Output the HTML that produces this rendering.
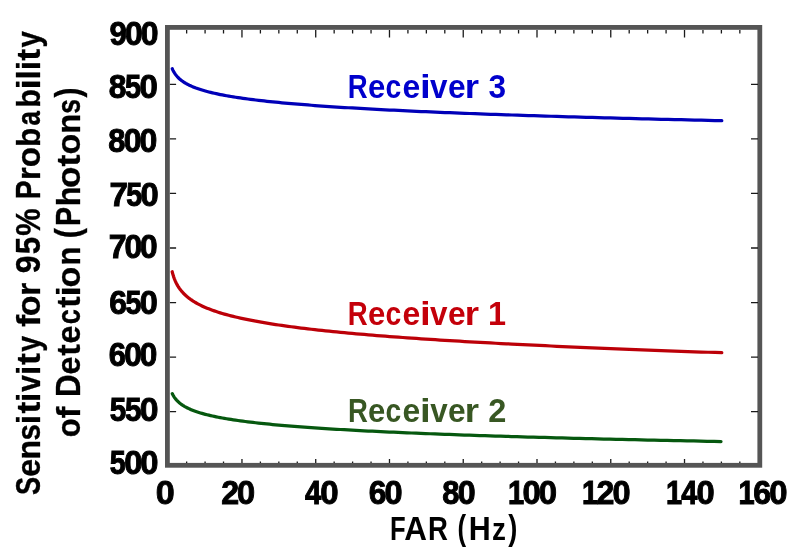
<!DOCTYPE html>
<html><head><meta charset="utf-8"><style>
html,body{margin:0;padding:0;background:#fff;}
body{width:799px;height:554px;overflow:hidden;}
svg{display:block;will-change:transform;}
text{font-family:"Liberation Sans",sans-serif;font-weight:bold;font-kerning:none;}
</style></head><body>
<svg width="799" height="554" viewBox="0 0 799 554">
<rect width="799" height="554" fill="#fff"/>
<rect x="167.4" y="27.4" width="592.4" height="437.9" fill="none" stroke="#555555" stroke-width="4.8"/>
<path d="M186.64 29.9v3.6 M186.64 463.1v-1.5 M205.08 29.9v3.6 M205.08 463.1v-1.5 M223.52 29.9v3.6 M223.52 463.1v-1.5 M241.96 29.9v7.5 M241.96 463.1v-4.2 M260.40 29.9v3.6 M260.40 463.1v-1.5 M278.84 29.9v3.6 M278.84 463.1v-1.5 M297.28 29.9v3.6 M297.28 463.1v-1.5 M315.72 29.9v7.5 M315.72 463.1v-4.2 M334.16 29.9v3.6 M334.16 463.1v-1.5 M352.60 29.9v3.6 M352.60 463.1v-1.5 M371.04 29.9v3.6 M371.04 463.1v-1.5 M389.48 29.9v7.5 M389.48 463.1v-4.2 M407.92 29.9v3.6 M407.92 463.1v-1.5 M426.36 29.9v3.6 M426.36 463.1v-1.5 M444.80 29.9v3.6 M444.80 463.1v-1.5 M463.24 29.9v7.5 M463.24 463.1v-4.2 M481.68 29.9v3.6 M481.68 463.1v-1.5 M500.12 29.9v3.6 M500.12 463.1v-1.5 M518.56 29.9v3.6 M518.56 463.1v-1.5 M537.00 29.9v7.5 M537.00 463.1v-4.2 M555.44 29.9v3.6 M555.44 463.1v-1.5 M573.88 29.9v3.6 M573.88 463.1v-1.5 M592.32 29.9v3.6 M592.32 463.1v-1.5 M610.76 29.9v7.5 M610.76 463.1v-4.2 M629.20 29.9v3.6 M629.20 463.1v-1.5 M647.64 29.9v3.6 M647.64 463.1v-1.5 M666.08 29.9v3.6 M666.08 463.1v-1.5 M684.52 29.9v7.5 M684.52 463.1v-4.2 M702.96 29.9v3.6 M702.96 463.1v-1.5 M721.40 29.9v3.6 M721.40 463.1v-1.5 M739.84 29.9v3.6 M739.84 463.1v-1.5 M169.9 84.35h6.2 M758.0 84.35h-7.0 M169.9 138.90h6.2 M758.0 138.90h-7.0 M169.9 193.45h6.2 M758.0 193.45h-7.0 M169.9 248.00h6.2 M758.0 248.00h-7.0 M169.9 302.55h6.2 M758.0 302.55h-7.0 M169.9 357.10h6.2 M758.0 357.10h-7.0 M169.9 411.65h6.2 M758.0 411.65h-7.0" stroke="#1a1a1a" stroke-width="1.3" fill="none"/>
<path d="M172.30 68.77 L172.32 68.82 L172.39 68.97 L172.50 69.22 L172.65 69.56 L172.84 69.98 L173.08 70.47 L173.37 71.03 L173.69 71.63 L174.06 72.27 L174.47 72.95 L174.93 73.64 L175.43 74.36 L175.97 75.08 L176.56 75.81 L177.19 76.54 L177.86 77.26 L178.58 77.98 L179.34 78.70 L180.15 79.40 L180.99 80.10 L181.89 80.78 L182.82 81.45 L183.80 82.11 L184.82 82.76 L185.88 83.39 L186.99 84.01 L188.15 84.62 L189.34 85.22 L190.58 85.80 L191.86 86.37 L193.19 86.93 L194.56 87.48 L195.97 88.02 L197.43 88.54 L198.93 89.06 L200.47 89.57 L202.06 90.06 L203.69 90.55 L205.36 91.03 L207.08 91.49 L208.84 91.95 L210.64 92.40 L212.49 92.85 L214.38 93.28 L216.31 93.71 L218.29 94.13 L220.31 94.54 L222.38 94.95 L224.49 95.35 L226.64 95.74 L228.83 96.13 L231.07 96.51 L233.36 96.88 L235.68 97.25 L238.05 97.61 L240.46 97.97 L242.92 98.32 L245.42 98.67 L247.96 99.01 L250.55 99.34 L253.18 99.68 L255.85 100.00 L258.57 100.33 L261.33 100.65 L264.13 100.96 L266.98 101.27 L269.87 101.58 L272.81 101.88 L275.78 102.18 L278.80 102.48 L281.87 102.77 L284.98 103.06 L288.13 103.34 L291.32 103.63 L294.56 103.90 L297.85 104.18 L301.17 104.45 L304.54 104.72 L307.95 104.99 L311.41 105.25 L314.91 105.51 L318.45 105.77 L322.04 106.03 L325.67 106.28 L329.34 106.53 L333.06 106.78 L336.82 107.02 L340.62 107.27 L344.47 107.51 L348.36 107.75 L352.29 107.98 L356.27 108.22 L360.29 108.45 L364.36 108.68 L368.46 108.91 L372.62 109.14 L376.81 109.36 L381.05 109.58 L385.33 109.80 L389.66 110.02 L394.03 110.24 L398.44 110.45 L402.89 110.67 L407.39 110.88 L411.94 111.09 L416.52 111.30 L421.15 111.51 L425.83 111.71 L430.54 111.92 L435.30 112.12 L440.11 112.32 L444.95 112.52 L449.84 112.72 L454.78 112.91 L459.75 113.11 L464.78 113.30 L469.84 113.50 L474.95 113.69 L480.10 113.88 L485.29 114.07 L490.53 114.26 L495.81 114.44 L501.14 114.63 L506.51 114.81 L511.92 115.00 L517.38 115.18 L522.87 115.36 L528.42 115.54 L534.00 115.72 L539.63 115.90 L545.31 116.07 L551.02 116.25 L556.78 116.42 L562.59 116.60 L568.43 116.77 L574.32 116.94 L580.26 117.11 L586.23 117.28 L592.26 117.45 L598.32 117.62 L604.43 117.79 L610.58 117.96 L616.77 118.12 L623.01 118.29 L629.29 118.45 L635.62 118.62 L641.99 118.78 L648.40 118.94 L654.85 119.10 L661.35 119.26 L667.90 119.42 L674.48 119.58 L681.11 119.74 L687.78 119.90 L694.50 120.06 L701.26 120.21 L708.06 120.37 L714.91 120.52 L721.80 120.68" stroke="#0000b8" stroke-width="3.25" fill="none" stroke-linecap="round" stroke-linejoin="round"/>
<path d="M172.20 271.76 L172.22 271.84 L172.29 272.11 L172.40 272.54 L172.55 273.12 L172.74 273.83 L172.98 274.66 L173.27 275.60 L173.59 276.61 L173.96 277.68 L174.37 278.79 L174.83 279.94 L175.33 281.11 L175.87 282.29 L176.46 283.47 L177.09 284.65 L177.77 285.82 L178.48 286.98 L179.24 288.12 L180.05 289.24 L180.90 290.34 L181.79 291.42 L182.72 292.48 L183.70 293.52 L184.72 294.54 L185.79 295.53 L186.90 296.51 L188.05 297.46 L189.24 298.39 L190.48 299.30 L191.77 300.19 L193.09 301.06 L194.46 301.92 L195.87 302.75 L197.33 303.57 L198.83 304.37 L200.37 305.15 L201.96 305.92 L203.59 306.67 L205.27 307.41 L206.98 308.13 L208.74 308.84 L210.55 309.54 L212.40 310.22 L214.29 310.89 L216.22 311.55 L218.20 312.19 L220.22 312.83 L222.29 313.45 L224.40 314.07 L226.55 314.67 L228.74 315.26 L230.98 315.85 L233.27 316.42 L235.59 316.99 L237.96 317.54 L240.38 318.09 L242.83 318.63 L245.33 319.16 L247.88 319.69 L250.46 320.20 L253.09 320.71 L255.77 321.21 L258.48 321.71 L261.25 322.20 L264.05 322.68 L266.90 323.15 L269.79 323.62 L272.72 324.09 L275.70 324.55 L278.72 325.00 L281.79 325.44 L284.90 325.89 L288.05 326.32 L291.25 326.75 L294.49 327.18 L297.77 327.60 L301.09 328.02 L304.46 328.43 L307.88 328.83 L311.33 329.24 L314.83 329.64 L318.38 330.03 L321.96 330.42 L325.59 330.81 L329.27 331.19 L332.99 331.57 L336.75 331.94 L340.55 332.32 L344.40 332.68 L348.29 333.05 L352.23 333.41 L356.20 333.77 L360.23 334.12 L364.29 334.47 L368.40 334.82 L372.55 335.17 L376.75 335.51 L380.99 335.85 L385.27 336.18 L389.60 336.52 L393.97 336.85 L398.38 337.18 L402.84 337.50 L407.34 337.82 L411.88 338.14 L416.47 338.46 L421.10 338.78 L425.77 339.09 L430.49 339.40 L435.25 339.71 L440.05 340.02 L444.90 340.32 L449.79 340.62 L454.73 340.92 L459.71 341.22 L464.73 341.52 L469.79 341.81 L474.90 342.10 L480.06 342.39 L485.25 342.68 L490.49 342.96 L495.77 343.25 L501.10 343.53 L506.47 343.81 L511.88 344.09 L517.34 344.37 L522.84 344.64 L528.38 344.92 L533.97 345.19 L539.60 345.46 L545.27 345.73 L550.99 346.00 L556.75 346.26 L562.56 346.53 L568.41 346.79 L574.30 347.05 L580.23 347.31 L586.21 347.57 L592.23 347.83 L598.30 348.08 L604.41 348.34 L610.56 348.59 L616.75 348.85 L622.99 349.10 L629.28 349.35 L635.60 349.59 L641.97 349.84 L648.39 350.09 L654.84 350.33 L661.34 350.58 L667.89 350.82 L674.47 351.06 L681.10 351.30 L687.78 351.54 L694.50 351.78 L701.26 352.02 L708.06 352.25 L714.91 352.49 L721.80 352.72" stroke="#bc0008" stroke-width="3.25" fill="none" stroke-linecap="round" stroke-linejoin="round"/>
<path d="M172.30 393.66 L172.32 393.70 L172.39 393.84 L172.50 394.06 L172.65 394.37 L172.84 394.75 L173.08 395.19 L173.36 395.69 L173.69 396.24 L174.06 396.83 L174.47 397.44 L174.93 398.08 L175.43 398.74 L175.97 399.40 L176.55 400.08 L177.18 400.75 L177.86 401.42 L178.57 402.09 L179.33 402.76 L180.14 403.41 L180.98 404.06 L181.87 404.70 L182.80 405.33 L183.78 405.94 L184.80 406.55 L185.87 407.14 L186.97 407.72 L188.12 408.30 L189.32 408.86 L190.55 409.40 L191.83 409.94 L193.16 410.47 L194.52 410.98 L195.94 411.49 L197.39 411.98 L198.89 412.47 L200.43 412.95 L202.01 413.41 L203.64 413.87 L205.31 414.32 L207.03 414.76 L208.78 415.19 L210.59 415.62 L212.43 416.03 L214.32 416.44 L216.25 416.84 L218.23 417.24 L220.24 417.63 L222.31 418.01 L224.41 418.38 L226.56 418.75 L228.75 419.12 L230.99 419.47 L233.27 419.82 L235.59 420.17 L237.95 420.51 L240.36 420.84 L242.82 421.17 L245.31 421.50 L247.85 421.82 L250.43 422.13 L253.06 422.45 L255.73 422.75 L258.44 423.05 L261.20 423.35 L264.00 423.65 L266.84 423.94 L269.73 424.22 L272.66 424.51 L275.63 424.79 L278.65 425.06 L281.71 425.33 L284.81 425.60 L287.96 425.87 L291.15 426.13 L294.39 426.39 L297.66 426.64 L300.98 426.90 L304.35 427.15 L307.75 427.39 L311.21 427.64 L314.70 427.88 L318.24 428.12 L321.82 428.36 L325.44 428.59 L329.11 428.82 L332.82 429.05 L336.58 429.28 L340.38 429.50 L344.22 429.72 L348.10 429.94 L352.03 430.16 L356.00 430.38 L360.02 430.59 L364.08 430.80 L368.18 431.01 L372.32 431.22 L376.51 431.42 L380.75 431.63 L385.02 431.83 L389.34 432.03 L393.70 432.23 L398.11 432.42 L402.56 432.62 L407.05 432.81 L411.59 433.00 L416.17 433.19 L420.79 433.38 L425.46 433.57 L430.17 433.75 L434.92 433.94 L439.72 434.12 L444.56 434.30 L449.44 434.48 L454.37 434.66 L459.34 434.83 L464.35 435.01 L469.41 435.18 L474.51 435.36 L479.65 435.53 L484.84 435.70 L490.07 435.87 L495.34 436.03 L500.66 436.20 L506.02 436.36 L511.43 436.53 L516.87 436.69 L522.36 436.85 L527.90 437.01 L533.48 437.17 L539.10 437.33 L544.76 437.49 L550.47 437.64 L556.22 437.80 L562.02 437.95 L567.86 438.11 L573.74 438.26 L579.66 438.41 L585.63 438.56 L591.64 438.71 L597.70 438.86 L603.80 439.01 L609.94 439.15 L616.13 439.30 L622.36 439.45 L628.63 439.59 L634.94 439.73 L641.30 439.88 L647.71 440.02 L654.15 440.16 L660.64 440.30 L667.17 440.44 L673.75 440.58 L680.37 440.71 L687.03 440.85 L693.74 440.99 L700.49 441.12 L707.28 441.26 L714.12 441.39 L721.00 441.53" stroke="#06580f" stroke-width="3.25" fill="none" stroke-linecap="round" stroke-linejoin="round"/>
<g fill="#000"><text transform="translate(109.46,45.22) scale(0.9331,1)" font-size="33.62" stroke="#000" stroke-width="0.96">9</text><text transform="translate(124.99,45.22) scale(0.9504,1)" font-size="33.62" stroke="#000" stroke-width="0.95">0</text><text transform="translate(140.69,45.22) scale(0.9504,1)" font-size="33.62" stroke="#000" stroke-width="0.95">0</text></g>
<g fill="#000"><text transform="translate(108.64,97.92) scale(0.9504,1)" font-size="33.47" stroke="#000" stroke-width="0.95">8</text><text transform="translate(124.96,97.92) scale(0.8644,1)" font-size="33.47" stroke="#000" stroke-width="1.04">5</text><text transform="translate(139.44,97.92) scale(0.9865,1)" font-size="33.47" stroke="#000" stroke-width="0.91">0</text></g>
<g fill="#000"><text transform="translate(108.27,152.43) scale(0.9293,1)" font-size="33.19" stroke="#000" stroke-width="0.97">8</text><text transform="translate(123.72,152.43) scale(0.9646,1)" font-size="33.19" stroke="#000" stroke-width="0.93">0</text><text transform="translate(139.46,152.43) scale(0.9646,1)" font-size="33.19" stroke="#000" stroke-width="0.93">0</text></g>
<g fill="#000"><text transform="translate(109.62,206.13) scale(1.0167,1)" font-size="32.63" stroke="#000" stroke-width="0.89">7</text><text transform="translate(126.23,206.13) scale(0.8789,1)" font-size="32.63" stroke="#000" stroke-width="1.02">5</text><text transform="translate(140.59,206.13) scale(1.0031,1)" font-size="32.63" stroke="#000" stroke-width="0.90">0</text></g>
<g fill="#000"><text transform="translate(108.77,257.73) scale(0.9836,1)" font-size="32.63" stroke="#000" stroke-width="0.92">7</text><text transform="translate(124.47,257.73) scale(0.9704,1)" font-size="32.63" stroke="#000" stroke-width="0.93">0</text><text transform="translate(140.04,257.73) scale(0.9704,1)" font-size="32.63" stroke="#000" stroke-width="0.93">0</text></g>
<g fill="#000"><text transform="translate(109.18,314.23) scale(0.9614,1)" font-size="33.19" stroke="#000" stroke-width="0.94">6</text><text transform="translate(125.41,314.23) scale(0.8562,1)" font-size="33.19" stroke="#000" stroke-width="1.05">5</text><text transform="translate(139.64,314.23) scale(0.9772,1)" font-size="33.19" stroke="#000" stroke-width="0.92">0</text></g>
<g fill="#000"><text transform="translate(108.71,366.23) scale(0.9364,1)" font-size="33.19" stroke="#000" stroke-width="0.96">6</text><text transform="translate(124.14,366.23) scale(0.9518,1)" font-size="33.19" stroke="#000" stroke-width="0.95">0</text><text transform="translate(139.68,366.23) scale(0.9518,1)" font-size="33.19" stroke="#000" stroke-width="0.95">0</text></g>
<g fill="#000"><text transform="translate(109.84,421.13) scale(0.8898,1)" font-size="33.19" stroke="#000" stroke-width="1.01">5</text><text transform="translate(125.03,421.13) scale(0.8898,1)" font-size="33.19" stroke="#000" stroke-width="1.01">5</text><text transform="translate(139.79,421.13) scale(1.0155,1)" font-size="33.19" stroke="#000" stroke-width="0.89">0</text></g>
<g fill="#000"><text transform="translate(109.87,473.53) scale(0.8639,1)" font-size="33.19" stroke="#000" stroke-width="1.04">5</text><text transform="translate(124.22,473.53) scale(0.9860,1)" font-size="33.19" stroke="#000" stroke-width="0.91">0</text><text transform="translate(140.29,473.53) scale(0.9860,1)" font-size="33.19" stroke="#000" stroke-width="0.91">0</text></g>
<g fill="#000"><text transform="translate(155.70,503.63) scale(1.0440,1)" font-size="32.63" stroke="#000" stroke-width="0.86">0</text></g>
<g fill="#000"><text transform="translate(221.23,503.63) scale(0.9867,1)" font-size="32.63" stroke="#000" stroke-width="0.91">2</text><text transform="translate(237.06,503.63) scale(0.9988,1)" font-size="32.63" stroke="#000" stroke-width="0.90">0</text></g>
<g fill="#000"><text transform="translate(304.91,503.63) scale(0.8984,1)" font-size="32.63" stroke="#000" stroke-width="1.00">4</text><text transform="translate(320.24,503.63) scale(1.0119,1)" font-size="32.63" stroke="#000" stroke-width="0.89">0</text></g>
<g fill="#000"><text transform="translate(368.68,503.63) scale(0.9795,1)" font-size="32.63" stroke="#000" stroke-width="0.92">6</text><text transform="translate(384.52,503.63) scale(0.9956,1)" font-size="32.63" stroke="#000" stroke-width="0.90">0</text></g>
<g fill="#000"><text transform="translate(442.17,503.63) scale(0.9497,1)" font-size="32.63" stroke="#000" stroke-width="0.95">8</text><text transform="translate(457.68,503.63) scale(0.9858,1)" font-size="32.63" stroke="#000" stroke-width="0.91">0</text></g>
<g fill="#000"><text transform="translate(508.02,503.63) scale(0.8912,1)" font-size="32.63" stroke="#000" stroke-width="1.01">1</text><text transform="translate(522.58,503.63) scale(1.0076,1)" font-size="32.63" stroke="#000" stroke-width="0.89">0</text><text transform="translate(538.71,503.63) scale(1.0076,1)" font-size="32.63" stroke="#000" stroke-width="0.89">0</text></g>
<g fill="#000"><text transform="translate(582.04,503.63) scale(0.8811,1)" font-size="32.63" stroke="#000" stroke-width="1.02">1</text><text transform="translate(596.62,503.63) scale(0.9841,1)" font-size="32.63" stroke="#000" stroke-width="0.91">2</text><text transform="translate(612.41,503.63) scale(0.9962,1)" font-size="32.63" stroke="#000" stroke-width="0.90">0</text></g>
<g fill="#000"><text transform="translate(665.93,503.63) scale(0.8851,1)" font-size="32.63" stroke="#000" stroke-width="1.02">1</text><text transform="translate(681.25,503.63) scale(0.8886,1)" font-size="32.63" stroke="#000" stroke-width="1.01">4</text><text transform="translate(696.43,503.63) scale(1.0008,1)" font-size="32.63" stroke="#000" stroke-width="0.90">0</text></g>
<g fill="#000"><text transform="translate(738.62,503.63) scale(0.8892,1)" font-size="32.63" stroke="#000" stroke-width="1.01">1</text><text transform="translate(753.27,503.63) scale(0.9891,1)" font-size="32.63" stroke="#000" stroke-width="0.91">6</text><text transform="translate(769.25,503.63) scale(1.0054,1)" font-size="32.63" stroke="#000" stroke-width="0.90">0</text></g>
<g fill="#0000cc"><text transform="translate(347.86,97.80) scale(0.8176,1)" font-size="33.72">R</text><text transform="translate(367.89,97.80) scale(0.9606,1)" font-size="32.34">e</text><text transform="translate(385.39,97.80) scale(0.8749,1)" font-size="32.34">c</text><text transform="translate(402.45,97.80) scale(0.9862,1)" font-size="32.34">e</text><text transform="translate(420.00,97.80) scale(1.1945,1)" font-size="32.34">i</text><text transform="translate(430.08,97.80) scale(0.9709,1)" font-size="32.34">v</text><text transform="translate(448.06,97.80) scale(0.9798,1)" font-size="32.34">e</text><text transform="translate(464.78,97.80) scale(1.1342,1)" font-size="32.34">r</text><text transform="translate(488.48,97.80) scale(0.9366,1)" font-size="33.72">3</text></g>
<g fill="#c4000a"><text transform="translate(347.86,324.80) scale(0.8176,1)" font-size="33.72">R</text><text transform="translate(367.89,324.80) scale(0.9606,1)" font-size="32.34">e</text><text transform="translate(385.39,324.80) scale(0.8749,1)" font-size="32.34">c</text><text transform="translate(402.45,324.80) scale(0.9862,1)" font-size="32.34">e</text><text transform="translate(420.00,324.80) scale(1.1945,1)" font-size="32.34">i</text><text transform="translate(430.08,324.80) scale(0.9709,1)" font-size="32.34">v</text><text transform="translate(448.06,324.80) scale(0.9798,1)" font-size="32.34">e</text><text transform="translate(464.78,324.80) scale(1.1342,1)" font-size="32.34">r</text><text transform="translate(487.96,324.80) scale(0.9623,1)" font-size="33.72">1</text></g>
<g fill="#385723"><text transform="translate(347.96,421.70) scale(0.8170,1)" font-size="33.72">R</text><text transform="translate(367.97,421.70) scale(0.9599,1)" font-size="32.34">e</text><text transform="translate(385.47,421.70) scale(0.8743,1)" font-size="32.34">c</text><text transform="translate(402.52,421.70) scale(0.9855,1)" font-size="32.34">e</text><text transform="translate(420.06,421.70) scale(1.1938,1)" font-size="32.34">i</text><text transform="translate(430.13,421.70) scale(0.9703,1)" font-size="32.34">v</text><text transform="translate(448.10,421.70) scale(0.9791,1)" font-size="32.34">e</text><text transform="translate(464.81,421.70) scale(1.1334,1)" font-size="32.34">r</text><text transform="translate(488.28,421.70) scale(0.9664,1)" font-size="33.72">2</text></g>
<g fill="#000"><text transform="translate(389.99,540.10) scale(0.7599,1)" font-size="33.72">F</text><text transform="translate(404.32,540.10) scale(0.9327,1)" font-size="33.72">A</text><text transform="translate(428.06,540.10) scale(0.8176,1)" font-size="33.72">R</text><text transform="translate(457.41,539.68) scale(0.7328,1)" font-size="35.30">(</text><text transform="translate(468.86,540.10) scale(0.9029,1)" font-size="33.72">H</text><text transform="translate(492.09,540.10) scale(0.8808,1)" font-size="31.61">z</text><text transform="translate(508.27,539.68) scale(0.7730,1)" font-size="35.30">)</text></g>
<g fill="#000">
<text transform="translate(39.65,494.25) rotate(-90) translate(-0.78,0) scale(0.7892,1)" font-size="34.47" stroke="#000" stroke-width="0.38">S</text>
<text transform="translate(39.65,475.45) rotate(-90) translate(-1.26,0) scale(0.9623,1)" font-size="33.57" stroke="#000" stroke-width="0.31">e</text>
<text transform="translate(39.65,457.35) rotate(-90) translate(-2.12,0) scale(0.9561,1)" font-size="33.57" stroke="#000" stroke-width="0.31">n</text>
<text transform="translate(39.65,439.35) rotate(-90) translate(-1.03,0) scale(0.8750,1)" font-size="33.57" stroke="#000" stroke-width="0.34">s</text>
<text transform="translate(39.65,421.85) rotate(-90) translate(-2.34,0) scale(0.9986,1)" font-size="33.57" stroke="#000" stroke-width="0.30">i</text>
<text transform="translate(39.65,413.15) rotate(-90) translate(-0.44,0) scale(1.0618,1)" font-size="33.57" stroke="#000" stroke-width="0.28">t</text>
<text transform="translate(39.65,399.65) rotate(-90) translate(-2.34,0) scale(0.9986,1)" font-size="33.57" stroke="#000" stroke-width="0.30">i</text>
<text transform="translate(39.65,391.55) rotate(-90) translate(-0.12,0) scale(0.8971,1)" font-size="33.57" stroke="#000" stroke-width="0.33">v</text>
<text transform="translate(39.65,372.65) rotate(-90) translate(-2.34,0) scale(0.9986,1)" font-size="33.57" stroke="#000" stroke-width="0.30">i</text>
<text transform="translate(39.65,364.55) rotate(-90) translate(-0.44,0) scale(1.0714,1)" font-size="33.57" stroke="#000" stroke-width="0.28">t</text>
<text transform="translate(39.65,351.55) rotate(-90) translate(-0.22,0) scale(0.8448,1)" font-size="33.57" stroke="#000" stroke-width="0.36">y</text>
<text transform="translate(39.65,326.35) rotate(-90) translate(-0.63,0) scale(1.0964,1)" font-size="33.57" stroke="#000" stroke-width="0.27">f</text>
<text transform="translate(39.65,314.95) rotate(-90) translate(-1.33,0) scale(1.0121,1)" font-size="33.57" stroke="#000" stroke-width="0.30">o</text>
<text transform="translate(39.65,293.85) rotate(-90) translate(-2.27,0) scale(1.0248,1)" font-size="33.57" stroke="#000" stroke-width="0.29">r</text>
<text transform="translate(39.65,272.25) rotate(-90) translate(-1.11,0) scale(0.9283,1)" font-size="34.47" stroke="#000" stroke-width="0.32">9</text>
<text transform="translate(39.65,253.25) rotate(-90) translate(-0.96,0) scale(0.9095,1)" font-size="34.47" stroke="#000" stroke-width="0.33">5</text>
<text transform="translate(39.65,234.95) rotate(-90) translate(-0.77,0) scale(0.8933,1)" font-size="34.47" stroke="#000" stroke-width="0.34">%</text>
<text transform="translate(39.65,197.25) rotate(-90) translate(-1.88,0) scale(0.8151,1)" font-size="34.47" stroke="#000" stroke-width="0.37">P</text>
<text transform="translate(39.65,177.95) rotate(-90) translate(-2.14,0) scale(0.9668,1)" font-size="33.57" stroke="#000" stroke-width="0.31">r</text>
<text transform="translate(39.65,166.05) rotate(-90) translate(-1.29,0) scale(0.9841,1)" font-size="33.57" stroke="#000" stroke-width="0.30">o</text>
<text transform="translate(39.65,144.85) rotate(-90) translate(-2.08,0) scale(0.9399,1)" font-size="33.57" stroke="#000" stroke-width="0.32">b</text>
<text transform="translate(39.65,124.85) rotate(-90) translate(-0.76,0) scale(0.7709,1)" font-size="33.57" stroke="#000" stroke-width="0.39">a</text>
<text transform="translate(39.65,105.85) rotate(-90) translate(-2.01,0) scale(0.9103,1)" font-size="33.57" stroke="#000" stroke-width="0.33">b</text>
<text transform="translate(39.65,86.85) rotate(-90) translate(-2.60,0) scale(1.1072,1)" font-size="33.57" stroke="#000" stroke-width="0.27">i</text>
<text transform="translate(39.65,77.15) rotate(-90) translate(-2.34,0) scale(0.9986,1)" font-size="33.57" stroke="#000" stroke-width="0.30">l</text>
<text transform="translate(39.65,67.95) rotate(-90) translate(-2.34,0) scale(0.9986,1)" font-size="33.57" stroke="#000" stroke-width="0.30">i</text>
<text transform="translate(39.65,60.35) rotate(-90) translate(-0.44,0) scale(1.0714,1)" font-size="33.57" stroke="#000" stroke-width="0.28">t</text>
<text transform="translate(39.65,47.35) rotate(-90) translate(-0.23,0) scale(0.8723,1)" font-size="33.57" stroke="#000" stroke-width="0.34">y</text>
</g>
<g fill="#000">
<text transform="translate(80.05,436.15) rotate(-90) translate(-1.21,0) scale(0.9226,1)" font-size="33.57" stroke="#000" stroke-width="0.33">o</text>
<text transform="translate(80.05,417.75) rotate(-90) translate(-0.60,0) scale(1.0402,1)" font-size="33.57" stroke="#000" stroke-width="0.29">f</text>
<text transform="translate(80.05,394.95) rotate(-90) translate(-2.09,0) scale(0.9082,1)" font-size="34.47" stroke="#000" stroke-width="0.33">D</text>
<text transform="translate(80.05,373.25) rotate(-90) translate(-1.26,0) scale(0.9623,1)" font-size="33.57" stroke="#000" stroke-width="0.31">e</text>
<text transform="translate(80.05,355.25) rotate(-90) translate(-0.42,0) scale(1.0232,1)" font-size="33.57" stroke="#000" stroke-width="0.29">t</text>
<text transform="translate(80.05,342.25) rotate(-90) translate(-1.26,0) scale(0.9623,1)" font-size="33.57" stroke="#000" stroke-width="0.31">e</text>
<text transform="translate(80.05,323.15) rotate(-90) translate(-1.06,0) scale(0.8061,1)" font-size="33.57" stroke="#000" stroke-width="0.37">c</text>
<text transform="translate(80.05,307.35) rotate(-90) translate(-0.42,0) scale(1.0135,1)" font-size="33.57" stroke="#000" stroke-width="0.30">t</text>
<text transform="translate(80.05,293.85) rotate(-90) translate(-2.60,0) scale(1.1072,1)" font-size="33.57" stroke="#000" stroke-width="0.27">i</text>
<text transform="translate(80.05,286.15) rotate(-90) translate(-1.33,0) scale(1.0121,1)" font-size="33.57" stroke="#000" stroke-width="0.30">o</text>
<text transform="translate(80.05,263.45) rotate(-90) translate(-2.03,0) scale(0.9191,1)" font-size="33.57" stroke="#000" stroke-width="0.33">n</text>
<text transform="translate(80.05,236.85) rotate(-90) translate(-1.52,0) scale(0.8840,1)" font-size="34.47" stroke="#000" stroke-width="0.34">(</text>
<text transform="translate(80.05,224.15) rotate(-90) translate(-1.90,0) scale(0.8253,1)" font-size="34.47" stroke="#000" stroke-width="0.36">P</text>
<text transform="translate(80.05,203.95) rotate(-90) translate(-2.27,0) scale(0.9701,1)" font-size="33.57" stroke="#000" stroke-width="0.31">h</text>
<text transform="translate(80.05,186.75) rotate(-90) translate(-1.37,0) scale(1.0456,1)" font-size="33.57" stroke="#000" stroke-width="0.29">o</text>
<text transform="translate(80.05,166.15) rotate(-90) translate(-0.44,0) scale(1.0714,1)" font-size="33.57" stroke="#000" stroke-width="0.28">t</text>
<text transform="translate(80.05,153.15) rotate(-90) translate(-1.33,0) scale(1.0121,1)" font-size="33.57" stroke="#000" stroke-width="0.30">o</text>
<text transform="translate(80.05,131.65) rotate(-90) translate(-2.17,0) scale(0.9808,1)" font-size="33.57" stroke="#000" stroke-width="0.31">n</text>
<text transform="translate(80.05,112.75) rotate(-90) translate(-0.93,0) scale(0.7882,1)" font-size="33.57" stroke="#000" stroke-width="0.38">s</text>
<text transform="translate(80.05,97.55) rotate(-90) translate(-0.03,0) scale(0.8634,1)" font-size="34.47" stroke="#000" stroke-width="0.35">)</text>
</g>
</svg>
</body></html>
